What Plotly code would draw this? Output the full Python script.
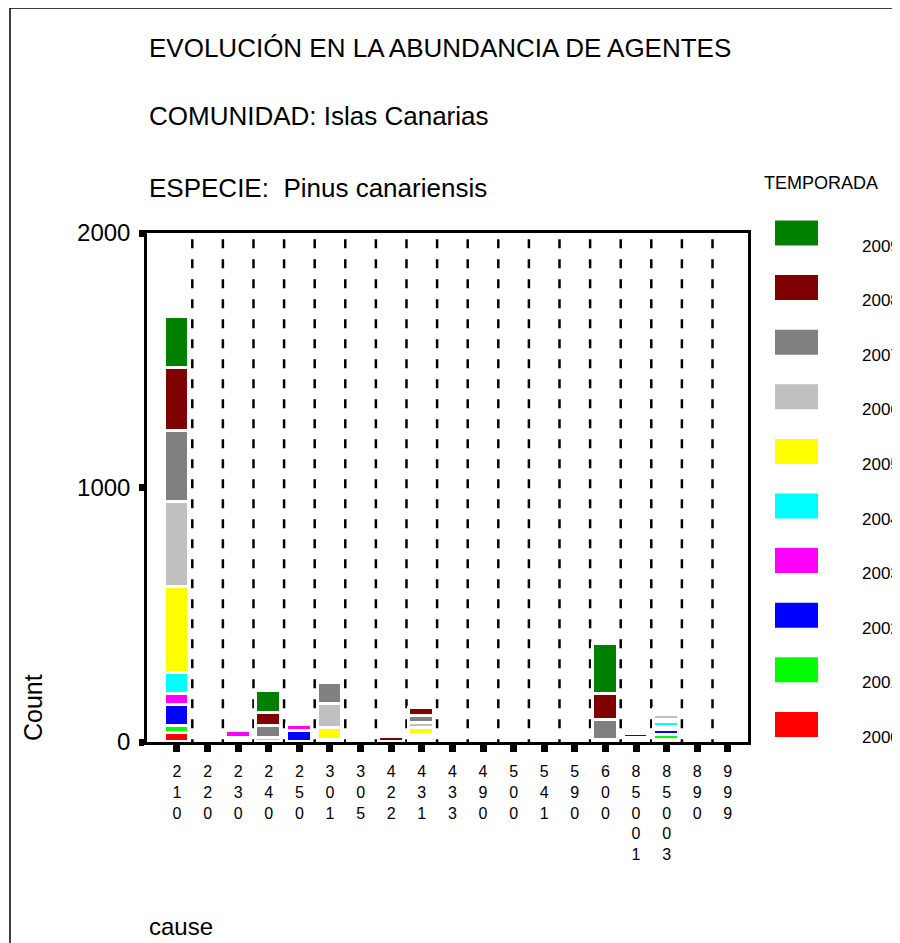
import plotly.graph_objects as go

# causes on the x axis (codes)
causes = ['210', '220', '230', '240', '250', '301', '305', '422', '431', '433',
          '490', '500', '541', '590', '600', '85001', '85003', '890', '999']

years = ['2000', '2001', '2002', '2003', '2004', '2005', '2006', '2007', '2008', '2009']
colors = ['#FF0000', '#00FF00', '#0000FF', '#FF00FF', '#00FFFF',
          '#FFFF00', '#C0C0C0', '#808080', '#800000', '#008000']

#            210 220 230 240 250 301 305 422 431 433 490 500 541 590 600 85001 85003 890 999
y2000 = [34, 0, 8, 0, 0, 0, 8, 0, 0, 0, 10, 0, 0, 0, 0, 7, 6, 0, 0]
y2001 = [30, 0, 8, 0, 0, 0, 8, 0, 0, 0, 10, 0, 0, 0, 0, 7, 21, 0, 0]
y2002 = [80, 0, 0, 0, 44, 0, 7, 0, 8, 0, 9, 0, 0, 0, 0, 19, 20, 0, 0]
y2003 = [46, 0, 29, 0, 21, 0, 0, 0, 9, 0, 0, 0, 0, 0, 0, 11, 11, 0, 0]
y2004 = [81, 0, 0, 0, 0, 6, 0, 0, 9, 0, 0, 0, 0, 0, 0, 11, 20, 0, 0]
y2005 = [340, 0, 0, 0, 0, 49, 0, 0, 29, 0, 0, 0, 0, 0, 0, 11, 9, 0, 0]
y2006 = [332, 0, 0, 15, 0, 96, 0, 0, 19, 0, 0, 0, 0, 0, 6, 11, 20, 0, 0]
y2007 = [280, 0, 0, 49, 0, 82, 0, 0, 28, 0, 0, 0, 0, 0, 79, 11, 8, 0, 0]
y2008 = [246, 0, 0, 49, 0, 0, 0, 18, 31, 0, 0, 0, 0, 0, 104, 11, 8, 0, 0]
y2009 = [202, 0, 0, 89, 0, 0, 0, 0, 0, 0, 0, 0, 0, 0, 197, 11, 8, 0, 0]
series = [y2000, y2001, y2002, y2003, y2004, y2005, y2006, y2007, y2008, y2009]

# page geometry (px, as seen in the window) -> paper coords
OFF = 8  # body margin of the html page
W, H = 900 - OFF, 943 - OFF
L, R, T, B = 147, 748, 233, 742


def px(x):
    return (x - L) / (R - L)


def py(y):
    return (B - y) / (B - T)


FONT = 'Liberation Sans, Arial, sans-serif'
pos = list(range(len(causes)))

fig = go.Figure()
for yr, col, vals in zip(years, colors, series):
    fig.add_trace(go.Bar(x=pos, y=vals, name=yr, width=0.81,
                         marker=dict(color=col, line=dict(color='white', width=3)),
                         showlegend=False))

# dashed separators between causes
for k in range(len(causes) - 1):
    fig.add_shape(type='line', x0=k + 0.5, x1=k + 0.5, y0=1975, y1=0,
                  xref='x', yref='y', layer='below',
                  line=dict(color='black', width=2.5, dash='9px,11px'))

# legend drawn by hand (big swatches)
fig.add_annotation(x=px(762), y=py(183), xref='paper', yref='paper', text='TEMPORADA',
                   showarrow=False, xanchor='left', yanchor='middle',
                   font=dict(size=18, family=FONT, color='black'))
for i, (yr, col) in enumerate(zip(years[::-1], colors[::-1])):
    cy = 233 + i * 54.6
    fig.add_shape(type='rect', xref='paper', yref='paper',
                  x0=px(775), x1=px(818), y0=py(cy - 12.5), y1=py(cy + 12.5),
                  fillcolor=col, line=dict(width=0))
    fig.add_annotation(x=px(860), y=py(cy + 13), xref='paper', yref='paper', text=yr,
                       showarrow=False, xanchor='left', yanchor='middle',
                       font=dict(size=17, family=FONT, color='black'))

# titles
titles = [('EVOLUCIÓN EN LA ABUNDANCIA DE AGENTES', 48),
          ('COMUNIDAD: Islas Canarias', 116),
          ('ESPECIE:  Pinus canariensis', 188)]
for txt, yy in titles:
    fig.add_annotation(x=px(147), y=py(yy), xref='paper', yref='paper', text=txt,
                       showarrow=False, xanchor='left', yanchor='middle',
                       font=dict(size=26, family=FONT, color='black'))

fig.add_annotation(x=px(33), y=py(708), xref='paper', yref='paper', text='Count',
                   textangle=-90, showarrow=False, xanchor='center', yanchor='middle',
                   font=dict(size=25, family=FONT, color='black'))
fig.add_annotation(x=px(147), y=py(926), xref='paper', yref='paper', text='cause',
                   showarrow=False, xanchor='left', yanchor='middle',
                   font=dict(size=24, family=FONT, color='black'))

# outer border (right and bottom edges fall outside the window)
fig.add_shape(type='rect', xref='paper', yref='paper',
              x0=px(10), x1=px(930), y0=py(8), y1=py(980),
              line=dict(color='black', width=1.5))

fig.update_layout(
    width=W, height=H, barmode='stack', bargap=0,
    plot_bgcolor='white', paper_bgcolor='white',
    margin=dict(l=L - OFF, r=W - (R - OFF), t=T - OFF, b=H - (B - OFF), autoexpand=False),
    font=dict(family=FONT, color='black'),
    xaxis=dict(range=[-0.98, 18.66], tickvals=pos,
               ticktext=['<br>'.join(c) for c in causes],
               ticks='outside', ticklen=7, tickwidth=7, tickcolor='black',
               showgrid=False, zeroline=False, showline=True, linewidth=2.5,
               linecolor='black', mirror=True, ticklabelstandoff=6,
               tickfont=dict(size=16, family=FONT)),
    yaxis=dict(range=[0, 2000], tickvals=[0, 1000, 2000],
               ticks='outside', ticklen=5, tickwidth=7, tickcolor='black',
               showgrid=False, zeroline=False, showline=True, linewidth=2.5,
               linecolor='black', mirror=True, ticklabelstandoff=4,
               tickfont=dict(size=24, family=FONT)),
)

fig.write_html('out.html')
